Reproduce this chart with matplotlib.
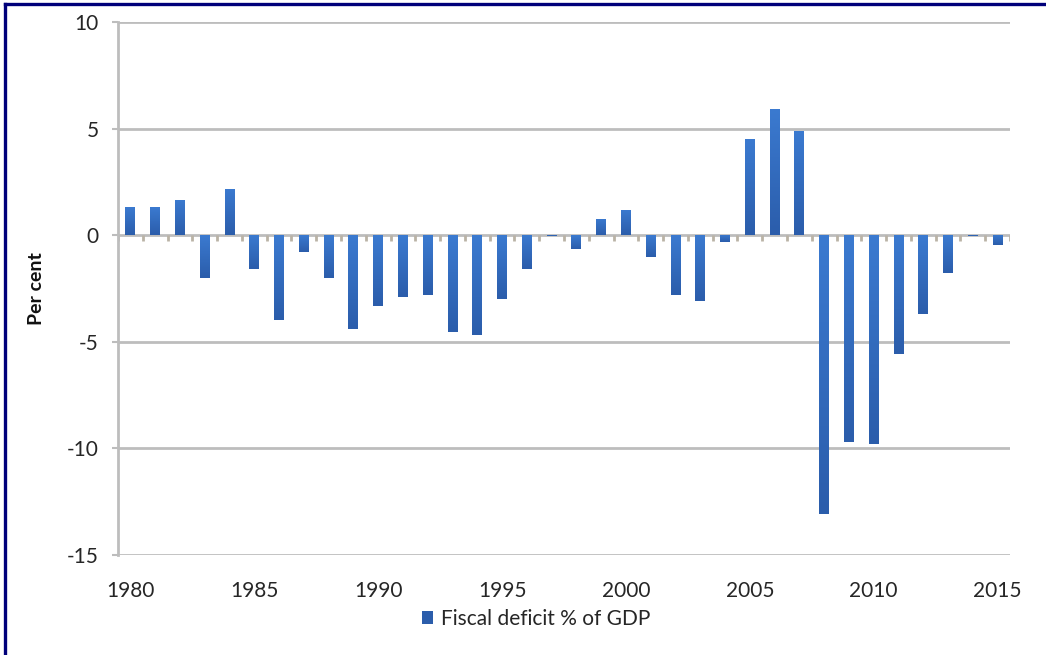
import numpy as np
import matplotlib
matplotlib.use("Agg")
import matplotlib.pyplot as plt
from matplotlib.colors import LinearSegmentedColormap
from matplotlib.lines import Line2D
from matplotlib.patches import Patch

years = list(range(1980, 2016))
deficit = [1.3, 1.3, 1.67, -2.0, 2.17, -1.6, -4.0, -0.78, -2.0, -4.42,
           -3.3, -2.9, -2.8, -4.52, -4.68, -3.0, -1.6, -0.05, -0.64, 0.76,
           1.18, -1.02, -2.81, -3.1, -0.33, 4.5, 5.9, 4.89, -13.1, -9.69,
           -9.8, -5.58, -3.7, -1.76, -0.05, -0.47]
year_labels = ["1980", "1985", "1990", "1995", "2000", "2005", "2010", "2015"]
y_ticks = [-15, -10, -5, 0, 5, 10]
series_name = "Fiscal deficit % of GDP"

plt.rcParams["font.family"] = ["Lato", "DejaVu Sans"]

W, H = 1046, 655
fig = plt.figure(figsize=(W / 100, H / 100), dpi=100)
ax = fig.add_axes([118 / W, (H - 555) / H, 892 / W, 533 / H])

grid_col = "#BDBDBD"
text_col = "#262626"
bar_light = "#3B7AD0"
bar_dark = "#2B5DAB"

x = np.arange(len(years))

# horizontal gridlines
for t in y_ticks:
    if t != 0:
        ax.axhline(t, color=grid_col, lw=2.0, zorder=1)

bars = ax.bar(x, deficit, width=0.4, color=bar_light, zorder=3, linewidth=0)

# vertical gradient inside each bar, lighter at top and darker at bottom
cmap = LinearSegmentedColormap.from_list("bar", [bar_light, bar_dark])
grad = np.linspace(0, 1, 64).reshape(-1, 1)
for rect in bars:
    x0, y0 = rect.get_x(), rect.get_y()
    w, h = rect.get_width(), rect.get_height()
    lo, hi = min(y0, y0 + h), max(y0, y0 + h)
    if hi - lo <= 0:
        continue
    im = ax.imshow(grad, cmap=cmap, aspect="auto", origin="upper",
                   extent=(x0, x0 + w, lo, hi), zorder=3.5,
                   interpolation="bilinear")
    im.set_clip_path(rect)
ax.set_xlim(-0.5, len(years) - 0.5)
ax.set_ylim(-15, 10)

# category axis along zero with tick marks between categories
ax.axhline(0, color=grid_col, lw=2.0, zorder=2)
bounds = np.arange(len(years) + 1) - 0.5
ax.vlines(bounds, -0.25, 0, color="#BAB3A6", lw=2.0, zorder=2)

for side in ["top", "right", "bottom"]:
    ax.spines[side].set_visible(False)
ax.spines["left"].set_color(grid_col)
ax.spines["left"].set_linewidth(2.0)

ax.set_yticks(y_ticks)
ax.set_yticklabels([str(t) for t in y_ticks])
ax.tick_params(axis="y", direction="out", length=4, width=1.5,
               color=grid_col, labelsize=15, labelcolor=text_col, pad=10)

tick_idx = [years.index(int(s)) for s in year_labels]
ax.set_xticks(tick_idx)
ax.set_xticklabels(year_labels)
ax.tick_params(axis="x", length=0, labelsize=15, labelcolor=text_col, pad=19)

ax.set_ylabel("Per cent", fontsize=14, fontweight="bold", color="#111111")
ax.yaxis.set_label_coords(-0.082, 0.5)

handle = Patch(facecolor=bar_dark, edgecolor="none")
fig.legend([handle], [series_name], loc="center",
           bbox_to_anchor=(536 / W, (H - 619) / H), frameon=False,
           fontsize=15, labelcolor=text_col, handlelength=0.55,
           handleheight=0.55, handletextpad=0.35, borderpad=0)

# navy frame on top and left edges
fig.add_artist(Line2D([5 / W, 1], [1 - 4 / H, 1 - 4 / H], color="#00007A",
                      lw=2.4, transform=fig.transFigure))
fig.add_artist(Line2D([5 / W, 5 / W], [0, 1 - 4 / H], color="#00007A",
                      lw=2.4, transform=fig.transFigure))

fig.savefig("out.png", dpi=100, facecolor="white")
